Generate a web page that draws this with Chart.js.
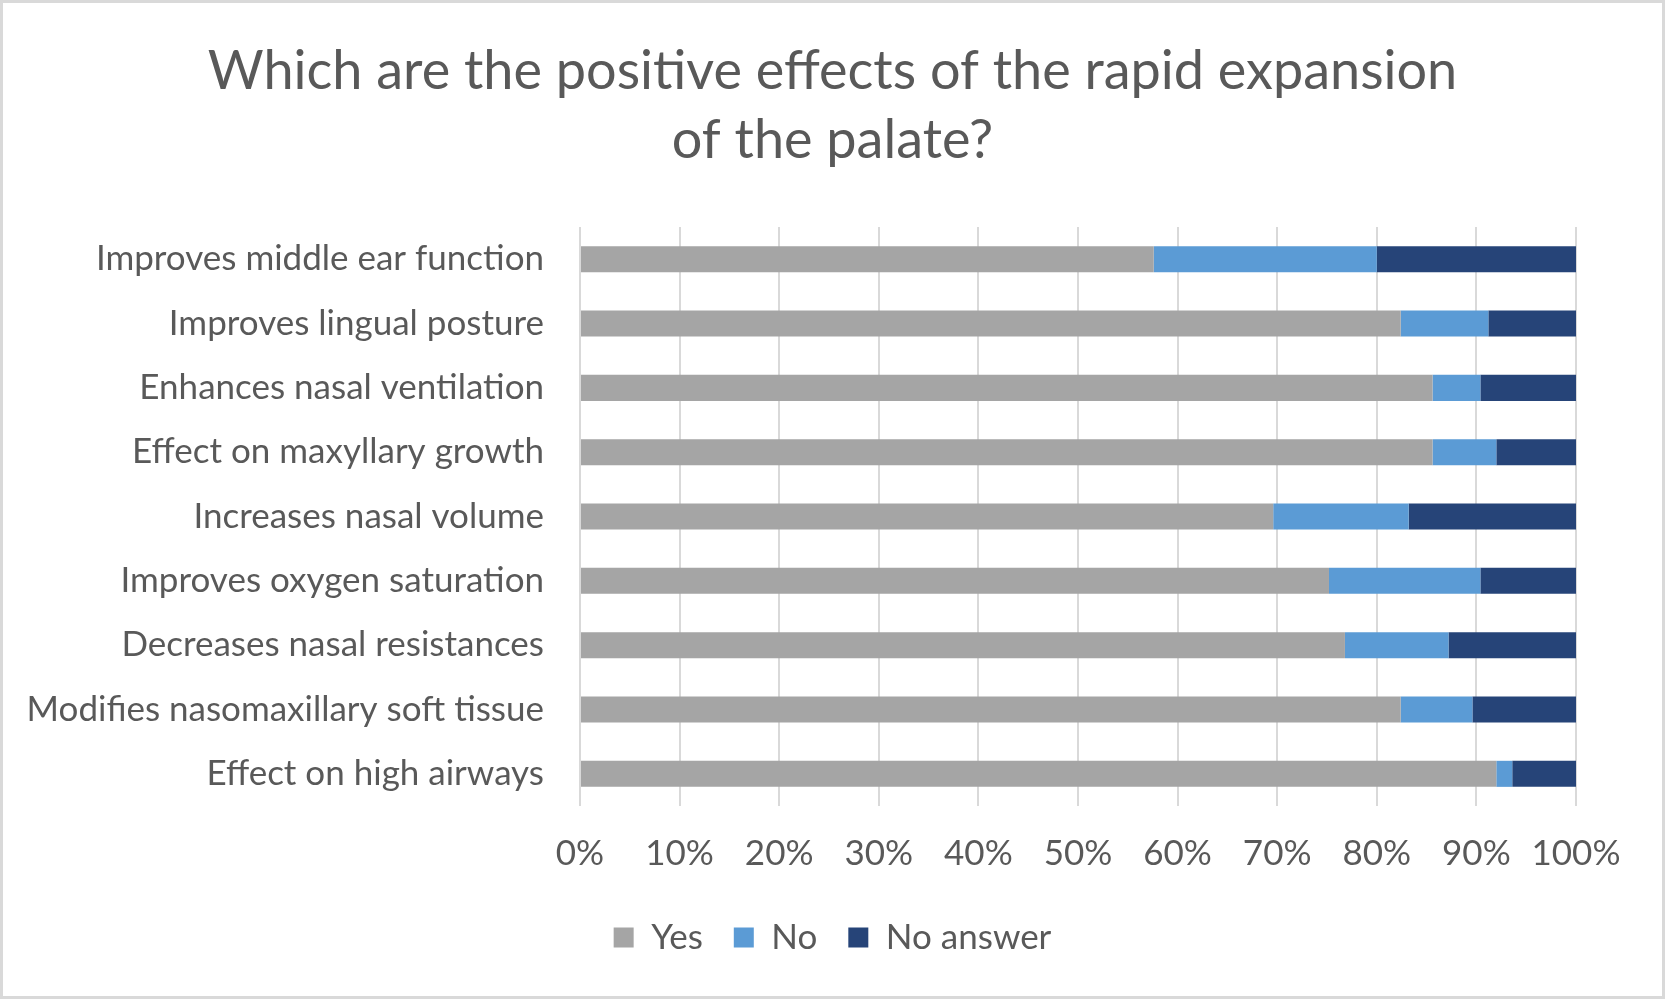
<!DOCTYPE html>
<html>
<head>
<meta charset="utf-8">
<title>Positive effects of rapid palatal expansion</title>
<script src="https://cdn.jsdelivr.net/npm/chart.js@4/dist/chart.umd.min.js"></script>
<style>
  html, body { margin: 0; padding: 0; background: #fff; }
  #wrap { position: relative; width: 1665px; height: 999px; }
  #frame { position: absolute; left: 0; top: 0; width: 1665px; height: 999px;
           box-sizing: border-box; border: 3px solid #d9d9d9; pointer-events: none; }
</style>
</head>
<body>
<div id="wrap">
  <canvas id="effectsChart" width="1665" height="999"></canvas>
  <div id="frame"></div>
</div>
<script>
// categories, top to bottom
const categories = [
  'Improves middle ear function',
  'Improves lingual posture',
  'Enhances nasal ventilation',
  'Effect on maxyllary growth',
  'Increases nasal volume',
  'Improves oxygen saturation',
  'Decreases nasal resistances',
  'Modifies nasomaxillary soft tissue',
  'Effect on high airways'
];

// share of answers, %
const yesData      = [57.6, 82.4, 85.6, 85.6, 69.6, 75.2, 76.8, 82.4, 92.0];
const noData       = [22.4,  8.8,  4.8,  6.4, 13.6, 15.2, 10.4,  7.2,  1.6];
const noAnswerData = [20.0,  8.8,  9.6,  8.0, 16.8,  9.6, 12.8, 10.4,  6.4];

const xTicks = [0, 10, 20, 30, 40, 50, 60, 70, 80, 90, 100];

const textColor = '#595959';
const fontFamily = 'Lato, "Noto Sans", sans-serif';

Chart.defaults.font.family = fontFamily;
Chart.defaults.color = textColor;

const chart = new Chart(document.getElementById('effectsChart').getContext('2d'), {
  type: 'bar',
  data: {
    labels: categories,
    datasets: [
      { label: 'Yes', data: yesData, backgroundColor: '#a5a5a5' },
      { label: 'No', data: noData, backgroundColor: '#5b9bd5' },
      { label: 'No answer', data: noAnswerData, backgroundColor: '#264478' }
    ]
  },
  options: {
    indexAxis: 'y',
    responsive: false,
    devicePixelRatio: 1,
    animation: false,
    datasets: {
      bar: { categoryPercentage: 1, barPercentage: 0.405, borderWidth: 0 }
    },
    layout: { padding: { top: 0, left: 0, right: 0, bottom: 34 } },
    scales: {
      x: {
        stacked: true,
        min: 0,
        max: 100,
        afterBuildTicks: scale => { scale.ticks = xTicks.map(v => ({ value: v })); },
        afterFit: scale => { scale.height = 83; },
        ticks: {
          padding: 27,
          font: { size: 35 },
          color: textColor,
          callback: v => v + '%'
        },
        grid: { color: '#d9d9d9', lineWidth: 2, drawTicks: false },
        border: { display: false }
      },
      y: {
        stacked: true,
        afterFit: scale => { scale.width = 580; },
        ticks: { padding: 36, font: { size: 35 }, color: textColor },
        grid: { display: false, drawTicks: false },
        border: { display: false }
      },
      // empty axis on the right, keeps the plot clear of the frame
      yRight: {
        type: 'category',
        position: 'right',
        afterFit: scale => { scale.width = 89; },
        ticks: { display: false },
        grid: { display: false, drawTicks: false },
        border: { display: false }
      }
    },
    plugins: {
      title: {
        display: true,
        text: ['Which are the positive effects of the rapid expansion', 'of the palate?'],
        color: textColor,
        font: { size: 54, weight: 'normal', lineHeight: 1.278 },
        padding: { top: 37, bottom: 52 }
      },
      legend: {
        position: 'bottom',
        labels: {
          boxWidth: 20,
          boxHeight: 20,
          padding: 31,
          font: { size: 35 },
          color: textColor
        }
      },
      tooltip: { enabled: false }
    }
  }
});
</script>
</body>
</html>
